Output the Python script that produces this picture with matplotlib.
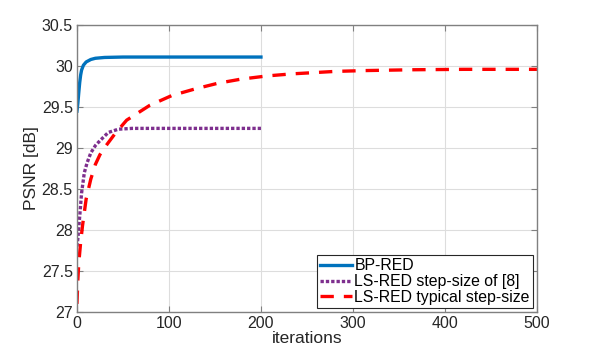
import numpy as np
import matplotlib.pyplot as plt
from matplotlib.ticker import FuncFormatter

plt.rcParams['font.family'] = ['Liberation Sans', 'DejaVu Sans']

# BP-RED
bp_it = [0, 1, 2, 3, 4, 5, 7, 10, 15, 20, 30, 50, 100, 200]
bp_psnr = [29.45, 29.55, 29.68, 29.80, 29.89, 29.95, 30.01, 30.05, 30.08,
           30.095, 30.105, 30.11, 30.11, 30.11]

# LS-RED step-size of [8]
ls8_it = [0, 1, 3, 5, 8, 11, 15, 20, 25, 34, 45, 60, 100, 200]
ls8_psnr = [27.80, 27.90, 28.17, 28.45, 28.70, 28.82, 28.94, 29.03, 29.09,
            29.19, 29.23, 29.24, 29.24, 29.24]

# LS-RED typical step-size
lst_it = [0, 1, 2, 4, 6, 10, 15, 20, 25, 31, 41, 54, 79, 103, 128, 153, 178,
          207, 234, 281, 313, 365, 420, 500]
lst_psnr = [27.10, 27.40, 27.60, 27.85, 28.05, 28.38, 28.62, 28.80, 28.92,
            29.02, 29.17, 29.34, 29.52, 29.64, 29.72, 29.79, 29.84, 29.88,
            29.905, 29.935, 29.945, 29.955, 29.96, 29.96]

fig = plt.figure(figsize=(5.92, 3.53), dpi=100)
ax = fig.add_axes([0.130, 0.116, 0.777, 0.813])

ax.plot(bp_it, bp_psnr, color='#0072BD', lw=2.4, label='BP-RED')
ax.plot(ls8_it, ls8_psnr, color='#7E2F8E', lw=2.4, linestyle=(0, (1.0, 0.6)),
        label='LS-RED step-size of [8]')
ax.plot(lst_it, lst_psnr, color='#FF0000', lw=2.4, linestyle=(0, (4, 3)),
        label='LS-RED typical step-size')

ax.set_xlim(0, 500)
ax.set_ylim(27, 30.5)
ax.set_xticks(np.arange(0, 501, 100))
ax.set_yticks(np.arange(27, 30.51, 0.5))
ax.yaxis.set_major_formatter(FuncFormatter(lambda v, p: '%g' % v))

ax.grid(True, color='#dddddd', lw=0.8)
ax.set_axisbelow(True)
for s in ax.spines.values():
    s.set_color('#808080')
    s.set_linewidth(1.0)
ax.tick_params(direction='in', top=True, right=True, color='#808080',
               labelsize=11.5, labelcolor='#262626', length=4, pad=3)

ax.set_xlabel('iterations', fontsize=12.5, color='#262626', labelpad=0)
ax.set_ylabel('PSNR [dB]', fontsize=12.5, color='#262626', labelpad=2)

leg = ax.legend(loc='lower right', fontsize=11.4, handlelength=2.0,
                handletextpad=0.15, borderpad=0.2, labelspacing=0.05,
                fancybox=False, borderaxespad=0.25, framealpha=1)
leg.get_frame().set_edgecolor('#262626')
leg.get_frame().set_linewidth(0.8)

fig.savefig('out.png', dpi=100)
